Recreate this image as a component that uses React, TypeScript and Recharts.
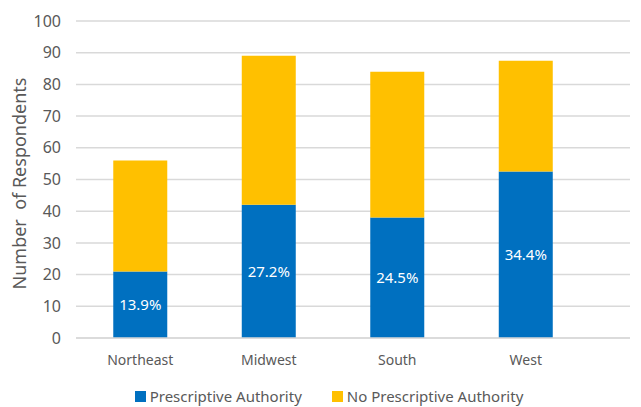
import { BarChart, Bar, XAxis, YAxis, CartesianGrid, Legend, LabelList } from 'recharts'

const regions = ['Northeast', 'Midwest', 'South', 'West']
const prescriptive = [21, 42, 38, 52.5]
const noPrescriptive = [35, 47, 46, 35]
const percentLabels = ['13.9%', '27.2%', '24.5%', '34.4%']
const yTicks = [0, 10, 20, 30, 40, 50, 60, 70, 80, 90, 100]
const seriesNames = ['Prescriptive Authority', 'No Prescriptive Authority']

const BLUE = '#0070C0'
const YELLOW = '#FFC000'
const TEXT = '#595959'
const FONT = '"Noto Sans", sans-serif'

const data = regions.map((region, i) => ({
  region,
  authority: prescriptive[i],
  noAuthority: noPrescriptive[i],
  pct: percentLabels[i],
}))

// legend drawn by hand so order and spacing match the original
function LegendContent() {
  const colors = [BLUE, YELLOW]
  return (
    <div style={{ display: 'flex', justifyContent: 'center', gap: 30, paddingLeft: 28, paddingTop: 18 }}>
      {seriesNames.map((name, i) => (
        <div key={name} style={{ display: 'flex', alignItems: 'center', gap: 4 }}>
          <span style={{ width: 11, height: 11, background: colors[i], display: 'inline-block' }} />
          <span style={{ color: TEXT, fontSize: 15, fontFamily: FONT }}>{name}</span>
        </div>
      ))}
    </div>
  )
}

export default function App() {
  return (
    <div style={{ position: 'absolute', left: 0, top: 0, background: '#fff', fontFamily: FONT }}>
      <BarChart
        width={641}
        height={407}
        data={data}
        margin={{ top: 21, right: 11, left: 0, bottom: 0 }}
        barCategoryGap="29%"
      >
        <CartesianGrid vertical={false} stroke="#D9D9D9" strokeWidth={1.5} />
        <XAxis
          dataKey="region"
          height={30}
          tickLine={false}
          axisLine={{ stroke: '#D9D9D9', strokeWidth: 1.5 }}
          tick={{ fill: TEXT, fontSize: 14, fontFamily: FONT }}
          tickMargin={11}
          padding={{ left: 0, right: 40 }}
        />
        <YAxis
          width={76}
          domain={[0, 100]}
          ticks={yTicks}
          tickLine={false}
          axisLine={false}
          tick={{ fill: TEXT, fontSize: 16, fontFamily: FONT }}
          tickMargin={9}
          label={{
            value: 'Number\u00A0\u00A0of Respondents',
            angle: -90,
            position: 'insideLeft',
            dx: 15,
            dy: 110,
            fill: TEXT,
            fontSize: 18,
            fontFamily: FONT,
          }}
        />
        <Legend verticalAlign="bottom" height={39} content={<LegendContent />} />
        <Bar dataKey="authority" name={seriesNames[0]} stackId="a" fill={BLUE} isAnimationActive={false}>
          <LabelList dataKey="pct" position="center" fill="#fff" fontSize={15} fontFamily={FONT} />
        </Bar>
        <Bar dataKey="noAuthority" name={seriesNames[1]} stackId="a" fill={YELLOW} isAnimationActive={false} />
      </BarChart>
    </div>
  )
}
